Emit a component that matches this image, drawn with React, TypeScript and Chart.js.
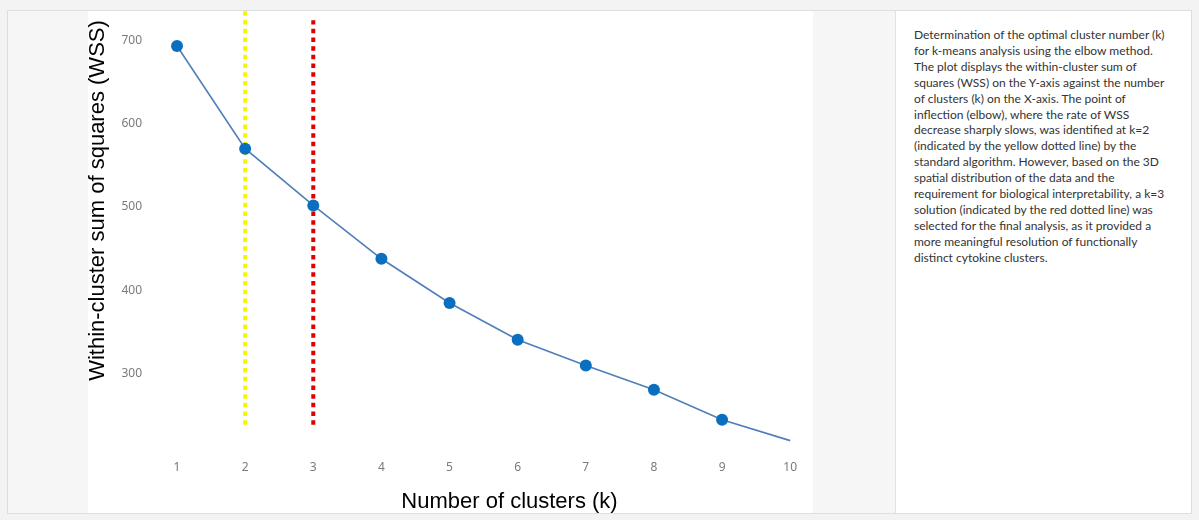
import { useEffect, useRef } from "react";
import { Chart, registerables } from "chart.js";

Chart.register(...registerables);

const clusterCounts = [1, 2, 3, 4, 5, 6, 7, 8, 9, 10];
const wssValues = [693, 570, 502, 438, 385, 341, 310, 281, 245, 220];
const xTickValues = [1, 2, 3, 4, 5, 6, 7, 8, 9, 10];
const yTickValues = [300, 400, 500, 600, 700];
const elbowK = 2;
const chosenK = 3;
const elbowLineRange = [239, 736];
const chosenLineRange = [239, 724];
const yRange = [200, 724];
const xRange = [0.53, 11.23];

const xTitle = "Number of clusters (k)";
const yTitle = "Within-cluster sum of squares (WSS)";

const captionLines = [
  "Determination of the optimal cluster number (k)",
  "for k-means analysis using the elbow method.",
  "The plot displays the within-cluster sum of",
  "squares (WSS) on the Y-axis against the number",
  "of clusters (k) on the X-axis. The point of",
  "inflection (elbow), where the rate of WSS",
  "decrease sharply slows, was identified at k=2",
  "(indicated by the yellow dotted line) by the",
  "standard algorithm. However, based on the 3D",
  "spatial distribution of the data and the",
  "requirement for biological interpretability, a k=3",
  "solution (indicated by the red dotted line) was",
  "selected for the final analysis, as it provided a",
  "more meaningful resolution of functionally",
  "distinct cytokine clusters.",
];

export default function App() {
  const canvasRef = useRef<HTMLCanvasElement | null>(null);

  useEffect(() => {
    if (!canvasRef.current) return;
    const last = clusterCounts.length - 1;
    const tickFont = { family: "'Noto Sans', 'Open Sans', sans-serif", size: 12 };
    const chart = new Chart(canvasRef.current, {
      type: "line",
      data: {
        datasets: [
          {
            label: "WSS",
            data: clusterCounts.map((k, i) => ({ x: k, y: wssValues[i] })),
            borderColor: "#4f7fb8",
            borderWidth: 1.6,
            backgroundColor: "#0b6fbf",
            pointBackgroundColor: "#0b6fbf",
            pointBorderColor: "#0b6fbf",
            pointBorderWidth: 0,
            pointRadius: clusterCounts.map((_, i) => (i === last ? 0 : 6)),
            pointHoverRadius: 6,
            tension: 0,
            fill: false,
            clip: false,
            order: 0,
          },
          {
            label: "k=2",
            data: elbowLineRange.map((v) => ({ x: elbowK, y: v })),
            borderColor: "#f6f600",
            borderWidth: 4,
            borderDash: [4.5, 4.2],
            pointRadius: 0,
            fill: false,
            clip: false,
            order: 2,
          },
          {
            label: "k=3",
            data: chosenLineRange.map((v) => ({ x: chosenK, y: v })),
            borderColor: "#e00000",
            borderWidth: 4,
            borderDash: [4.5, 4.2],
            pointRadius: 0,
            fill: false,
            clip: false,
            order: 1,
          },
        ],
      },
      options: {
        responsive: false,
        animation: false,
        layout: { padding: { top: 10, left: 0, right: 0, bottom: 0 } },
        plugins: {
          legend: { display: false },
          tooltip: { enabled: false },
          title: { display: false },
        },
        scales: {
          x: {
            type: "linear",
            min: xRange[0],
            max: xRange[1],
            grid: { display: false, drawTicks: false },
            border: { display: false },
            afterBuildTicks: (s: any) => {
              s.ticks = xTickValues.map((v) => ({ value: v }));
            },
            afterFit: (s: any) => {
              s.height = 57.7;
            },
            ticks: {
              color: "#7a7a7a",
              font: tickFont,
              padding: 3,
              maxRotation: 0,
              autoSkip: false,
            },
            title: {
              display: true,
              text: xTitle,
              color: "#000000",
              font: { family: "'Liberation Sans', Arial, sans-serif", size: 22 },
              padding: { top: 0, bottom: 0 },
            },
          },
          y: {
            type: "linear",
            min: yRange[0],
            max: yRange[1],
            grid: { display: false, drawTicks: false },
            border: { display: false },
            afterBuildTicks: (s: any) => {
              s.ticks = yTickValues.map((v) => ({ value: v }));
            },
            afterFit: (s: any) => {
              s.width = 60;
            },
            ticks: {
              color: "#7a7a7a",
              font: tickFont,
              padding: 3,
            },
            title: {
              display: true,
              text: yTitle,
              align: "end",
              color: "#000000",
              font: { family: "'Liberation Sans', Arial, sans-serif", size: 22 },
              padding: { top: 0, bottom: 0 },
            },
          },
        },
      },
    });
    return () => chart.destroy();
  }, []);

  return (
    <div
      style={{
        position: "absolute",
        left: 0,
        top: 0,
        width: 1199,
        height: 520,
        background: "#f3f3f3",
        overflow: "hidden",
      }}
    >
      <div
        style={{
          position: "absolute",
          left: 7,
          top: 10,
          width: 1185,
          height: 504,
          boxSizing: "border-box",
          border: "1px solid #dedede",
          background: "#f6f6f6",
        }}
      />
      <div
        style={{
          position: "absolute",
          left: 88,
          top: 11,
          width: 725,
          height: 502,
          background: "#ffffff",
        }}
      />
      <div
        style={{
          position: "absolute",
          left: 895,
          top: 11,
          width: 296,
          height: 502,
          boxSizing: "border-box",
          borderLeft: "1px solid #e2e2e2",
          background: "#ffffff",
        }}
      >
        <div
          style={{
            position: "absolute",
            left: 18,
            top: 16,
            fontFamily: "Lato, 'Noto Sans', sans-serif",
            fontSize: 12,
            lineHeight: "15.9px",
            color: "#333333",
            whiteSpace: "nowrap",
          }}
        >
          {captionLines.map((line, i) => (
            <div key={i}>{line}</div>
          ))}
        </div>
      </div>
      <canvas
        ref={canvasRef}
        width={795}
        height={505}
        style={{ position: "absolute", left: 85, top: 10, width: 795, height: 505 }}
      />
    </div>
  );
}
